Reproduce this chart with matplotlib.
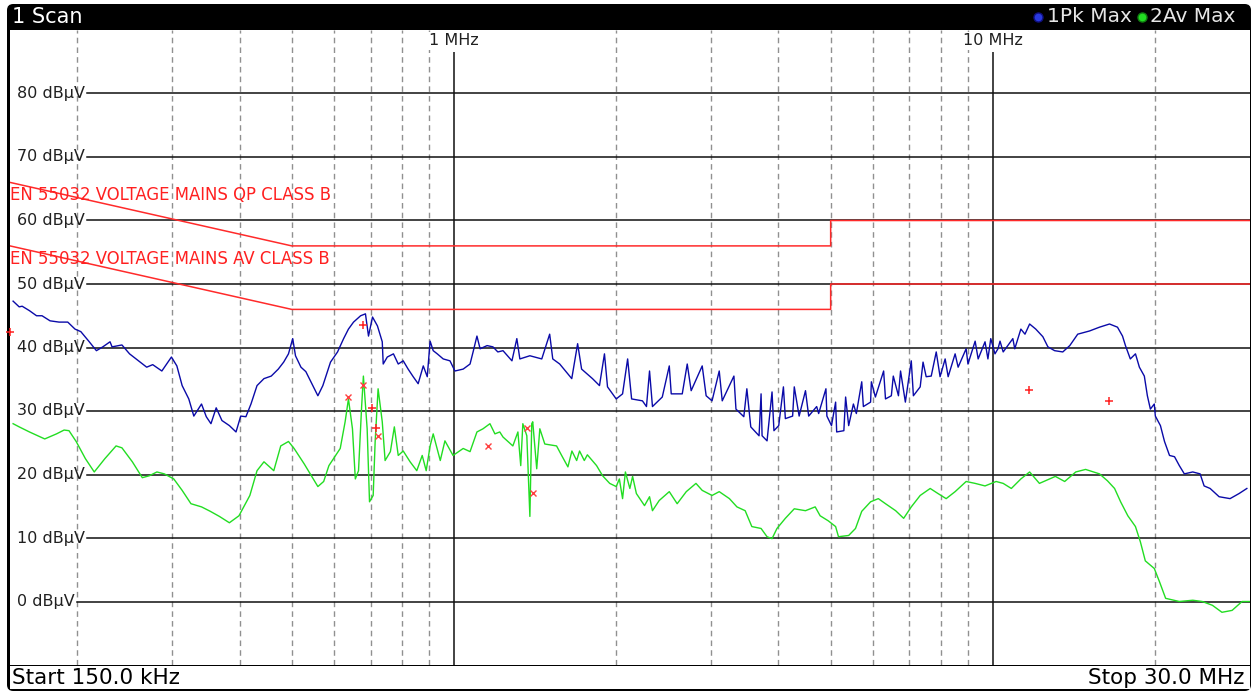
import matplotlib
matplotlib.use("Agg")
import matplotlib.pyplot as plt
from matplotlib.patches import FancyBboxPatch, Rectangle
from matplotlib.lines import Line2D
from matplotlib.transforms import blended_transform_factory

# -----------------------------------------------------------------------------
# scan data: frequency in MHz, level in dBuV
pk_freq = [
    0.152, 0.156, 0.158, 0.163, 0.168, 0.172, 0.178, 0.185, 0.192, 0.198,
    0.203, 0.210, 0.217, 0.223, 0.230, 0.232, 0.242, 0.250, 0.257, 0.269,
    0.276, 0.287, 0.299, 0.306, 0.313, 0.322, 0.329, 0.340, 0.347, 0.354,
    0.362, 0.371, 0.383, 0.394, 0.402, 0.411, 0.420, 0.431, 0.444, 0.458,
    0.472, 0.483, 0.493, 0.502, 0.508, 0.520, 0.531, 0.547, 0.559, 0.571,
    0.590, 0.608, 0.624, 0.637, 0.651, 0.671, 0.685, 0.694, 0.706, 0.721,
    0.736, 0.739, 0.752, 0.772, 0.788, 0.805, 0.822, 0.840, 0.858, 0.877,
    0.892, 0.903, 0.915, 0.931, 0.955, 0.983, 1.004, 1.040, 1.071, 1.085,
    1.103, 1.118, 1.152, 1.181, 1.206, 1.233, 1.281, 1.308, 1.325, 1.383,
    1.455, 1.505, 1.525, 1.571, 1.654, 1.696, 1.725, 1.807, 1.862, 1.902,
    1.927, 2.000, 2.055, 2.100, 2.136, 2.237, 2.276, 2.306, 2.335, 2.435,
    2.509, 2.530, 2.652, 2.709, 2.755, 2.888, 2.937, 3.012, 3.106, 3.146,
    3.307, 3.336, 3.450, 3.495, 3.554, 3.682, 3.714, 3.730, 3.810, 3.892,
    3.924, 4.005, 4.086, 4.120, 4.250, 4.280, 4.370, 4.490, 4.552, 4.710,
    4.750, 4.900, 4.920, 5.018, 5.107, 5.130, 5.290, 5.330, 5.400, 5.510,
    5.580, 5.710, 5.750, 5.930, 5.950, 6.053, 6.270, 6.320, 6.480, 6.534,
    6.680, 6.740, 6.880, 7.056, 7.120, 7.330, 7.420, 7.520, 7.684, 7.850,
    7.980, 8.155, 8.260, 8.510, 8.620, 8.920, 8.990, 9.270, 9.390, 9.670,
    9.790, 9.910, 10.09, 10.22, 10.31, 10.45, 10.89, 10.98, 11.27, 11.47,
    11.70, 12.01, 12.38, 12.65, 13.02, 13.48, 13.89, 14.37, 15.11, 15.77,
    16.46, 17.03, 17.40, 17.62, 17.99, 18.39, 18.70, 19.10, 19.35, 19.60,
    19.93, 20.02, 20.46, 20.82, 21.27, 21.73, 22.18, 22.66, 23.49, 24.24,
    24.66, 25.30, 26.29, 27.55, 28.63, 29.60,
]
pk_level = [
    47.3, 46.4, 46.5, 45.8, 45.0, 45.0, 44.2, 44.0, 44.0, 42.9,
    42.5, 41.0, 39.5, 40.1, 40.9, 40.1, 40.4, 39.0, 38.2, 36.9,
    37.3, 36.3, 38.5, 37.1, 34.0, 31.9, 29.2, 31.1, 29.1, 28.0,
    30.5, 28.5, 27.7, 26.7, 29.2, 29.1, 31.1, 34.0, 35.1, 35.5,
    36.6, 37.7, 39.0, 41.4, 38.7, 36.9, 36.2, 34.0, 32.4, 34.0,
    37.7, 39.3, 41.4, 42.9, 44.0, 45.0, 45.3, 41.8, 44.8, 43.4,
    40.9, 37.4, 38.5, 39.0, 37.4, 37.9, 36.6, 35.4, 34.3, 37.1,
    35.4, 41.0, 39.5, 39.0, 38.2, 37.9, 36.3, 36.6, 37.4, 39.3,
    41.8, 39.8, 40.3, 40.1, 39.3, 39.5, 37.9, 41.4, 38.2, 38.7,
    38.2, 42.1, 38.2, 37.4, 35.1, 40.6, 36.6, 35.1, 34.0, 39.0,
    33.8, 31.9, 32.7, 38.2, 31.9, 31.6, 30.7, 36.3, 30.7, 32.2,
    37.1, 32.7, 32.7, 37.4, 33.2, 37.1, 32.4, 31.6, 36.3, 31.6,
    35.5, 30.3, 29.1, 33.5, 27.5, 26.1, 32.7, 26.1, 25.3, 33.0,
    26.9, 27.7, 33.8, 28.8, 29.2, 33.8, 29.2, 33.2, 29.2, 30.7,
    29.6, 33.5, 29.2, 27.7, 31.4, 26.7, 26.9, 32.2, 27.7, 31.1,
    29.6, 34.6, 30.7, 31.4, 34.6, 32.2, 36.3, 31.9, 32.4, 35.5,
    32.4, 36.3, 31.4, 37.9, 32.4, 33.8, 37.7, 35.4, 35.5, 39.3,
    35.4, 38.2, 35.4, 39.0, 36.9, 39.8, 37.4, 41.0, 38.2, 40.9,
    38.2, 41.4, 39.0, 39.8, 41.0, 39.3, 41.4, 39.8, 42.9, 42.1,
    43.7, 42.9, 41.7, 40.1, 39.5, 39.3, 40.3, 42.1, 42.6, 43.2,
    43.7, 43.2, 41.8, 40.3, 38.2, 39.0, 36.9, 35.5, 32.4, 30.3,
    31.1, 29.2, 27.7, 25.2, 23.0, 22.8, 21.4, 20.1, 20.4, 20.1,
    18.2, 17.8, 16.5, 16.2, 17.0, 17.8,
]

av_freq = [
    0.152, 0.156, 0.163, 0.174, 0.183, 0.189, 0.193, 0.199, 0.207, 0.215,
    0.225, 0.236, 0.242, 0.253, 0.264, 0.272, 0.281, 0.290, 0.302, 0.313,
    0.325, 0.340, 0.353, 0.367, 0.383, 0.399, 0.418, 0.431, 0.444, 0.463,
    0.477, 0.493, 0.505, 0.527, 0.559, 0.573, 0.586, 0.615, 0.628, 0.637,
    0.648, 0.656, 0.665, 0.674, 0.679, 0.690, 0.697, 0.708, 0.714, 0.723,
    0.736, 0.745, 0.762, 0.775, 0.788, 0.805, 0.829, 0.853, 0.873, 0.888,
    0.903, 0.915, 0.943, 0.962, 0.996, 1.040, 1.071, 1.103, 1.132, 1.166,
    1.191, 1.216, 1.233, 1.286, 1.314, 1.330, 1.342, 1.365, 1.383, 1.394,
    1.400, 1.424, 1.443, 1.474, 1.550, 1.584, 1.627, 1.655, 1.689, 1.710,
    1.745, 1.768, 1.839, 1.887, 1.945, 2.000, 2.027, 2.055, 2.080, 2.120,
    2.145, 2.180, 2.257, 2.306, 2.335, 2.403, 2.509, 2.595, 2.698, 2.812,
    2.888, 3.012, 3.106, 3.244, 3.350, 3.470, 3.570, 3.714, 3.810, 3.892,
    3.975, 4.120, 4.280, 4.490, 4.680, 4.780, 4.950, 5.107, 5.170, 5.400,
    5.560, 5.710, 5.930, 6.130, 6.320, 6.600, 6.830, 7.056, 7.330, 7.650,
    7.910, 8.190, 8.510, 8.920, 9.270, 9.670, 10.14, 10.45, 10.82, 11.27,
    11.70, 12.20, 13.06, 13.59, 14.25, 14.86, 15.77, 16.32, 16.82, 17.26,
    17.80, 18.39, 18.78, 19.18, 19.93, 20.38, 20.92, 22.18, 23.49, 24.46,
    25.55, 26.61, 27.79, 29.00, 29.90,
]
av_level = [
    28.0, 27.5, 26.7, 25.6, 26.4, 27.0, 26.9, 25.2, 22.5, 20.4,
    22.5, 24.5, 24.2, 22.0, 19.5, 19.8, 20.4, 20.1, 19.3, 17.5,
    15.4, 14.9, 14.2, 13.4, 12.4, 13.5, 16.7, 20.6, 22.0, 20.6,
    24.5, 25.2, 24.1, 21.7, 18.1, 18.9, 21.4, 24.1, 28.3, 31.9,
    27.2, 19.3, 20.6, 30.8, 35.5, 27.2, 15.7, 16.7, 25.2, 33.5,
    28.3, 22.2, 23.6, 27.5, 23.0, 23.7, 22.0, 20.6, 23.0, 20.6,
    24.5, 26.4, 22.2, 25.3, 23.0, 24.1, 23.6, 26.7, 27.2, 28.0,
    26.4, 26.7, 25.9, 24.5, 26.7, 21.4, 28.0, 26.1, 13.4, 28.0,
    28.3, 20.9, 27.2, 24.8, 24.5, 23.0, 21.2, 23.7, 22.2, 23.7,
    22.2, 23.1, 21.4, 19.8, 18.6, 18.1, 19.3, 16.2, 20.4, 17.8,
    19.7, 17.0, 15.1, 16.5, 14.3, 15.9, 17.3, 15.4, 17.3, 18.6,
    17.5, 16.7, 17.3, 16.2, 14.9, 14.3, 11.8, 11.5, 10.2, 9.9,
    11.5, 13.1, 14.6, 14.3, 14.9, 13.5, 12.7, 11.8, 10.2, 10.4,
    11.5, 14.2, 15.7, 16.2, 15.4, 14.3, 13.1, 14.9, 16.7, 17.8,
    17.0, 16.2, 17.3, 18.9, 18.6, 18.2, 18.9, 18.6, 17.8, 19.3,
    20.4, 18.6, 19.7, 18.9, 20.4, 20.8, 20.1, 19.0, 17.8, 15.7,
    13.5, 11.8, 9.4, 6.4, 5.2, 3.1, 0.5, 0.0, 0.2, 0.0,
    -0.6, -1.7, -1.4, 0.0, 0.0,
]

# final measurement results
qp_mark_freq = [0.679, 0.703, 0.717, 11.66, 16.4]
qp_mark_level = [43.6, 30.5, 27.4, 33.3, 31.6]
av_mark_freq = [0.637, 0.679, 0.724, 1.156, 1.364, 1.40]
av_mark_level = [32.2, 34.1, 26.1, 24.5, 27.4, 17.1]
edge_mark_level = 42.5

# EN 55032 class B limit lines
limit_freq = [0.15, 0.5, 5.0, 5.0, 30.0]
qp_limit = [66, 56, 56, 60, 60]
av_limit = [56, 46, 46, 50, 50]

y_levels = [0, 10, 20, 30, 40, 50, 60, 70, 80]
minor_freqs = [0.2, 0.3, 0.4, 0.5, 0.6, 0.7, 0.8, 0.9,
               2, 3, 4, 5, 6, 7, 8, 9, 20]
major_freqs = [1, 10]
major_labels = ["1 MHz", "10 MHz"]

# -----------------------------------------------------------------------------
W, H = 1252, 692


def fx(px):
    return px / W


def fy(py):
    return 1.0 - py / H


fig = plt.figure(figsize=(W / 100, H / 100), dpi=100)
fig.patch.set_facecolor("white")

# black window frame with title bar (kept behind the axes)
frame = FancyBboxPatch((fx(7), fy(691)), fx(1251) - fx(7), fy(4) - fy(691),
                       boxstyle="round,pad=0,rounding_size=0.005",
                       mutation_aspect=W / H, transform=fig.transFigure,
                       fc="black", ec="none", zorder=-10)
fig.patches.append(frame)
footer = Rectangle((fx(10), fy(689)), fx(1250) - fx(10), fy(666) - fy(689),
                   transform=fig.transFigure, fc="white", ec="none",
                   zorder=-5)
fig.patches.append(footer)

ax = fig.add_axes([fx(10), fy(665), fx(1250) - fx(10), fy(30) - fy(665)])
ax.set_facecolor("white")
ax.set_xscale("log")
ax.set_xlim(0.15, 30)
ax.set_ylim(-10, 90)
for s in ax.spines.values():
    s.set_visible(False)
ax.set_xticks([])
ax.set_xticks([], minor=True)
ax.set_yticks([])

# vertical grid
for f in minor_freqs:
    ax.axvline(f, color="#909090", lw=1.0, ls=(0, (4, 3)), zorder=1)
for f, lab in zip(major_freqs, major_labels):
    ax.vlines(f, -10, 86.6, color="#101010", lw=1.1, zorder=1.5)
    ax.text(f, 88.3, lab, ha="center", va="center", fontsize=11.5,
            color="#202020", zorder=2,
            bbox=dict(fc="white", ec="none", pad=1))

# level labels, horizontal grid starts right after each label
ytr = blended_transform_factory(ax.transAxes, ax.transData)
labels = []
for v in y_levels:
    t = ax.text(7 / 1240, v, "%d dBµV" % v, transform=ytr, ha="left",
                va="center", fontsize=11.5, color="#202020", zorder=2)
    labels.append((v, t))
fig.canvas.draw()
r = fig.canvas.get_renderer()
axbb = ax.get_window_extent(r)
for v, t in labels:
    bb = t.get_window_extent(r)
    x0 = (bb.x1 + 2 - axbb.x0) / axbb.width
    ax.axhline(v, xmin=x0, xmax=1, color="#101010", lw=1.1, zorder=1.5)

# limit lines
ax.plot(limit_freq, qp_limit, color="#ff2a2a", lw=1.1, zorder=2.5)
ax.plot(limit_freq, av_limit, color="#ff2a2a", lw=1.1, zorder=2.5)
ax.text(0.0, 64.0, "EN 55032 VOLTAGE MAINS QP CLASS B", transform=ytr,
        ha="left", va="center", fontsize=11.9, color="#ff2020", zorder=4)
ax.text(0.0, 53.9, "EN 55032 VOLTAGE MAINS AV CLASS B", transform=ytr,
        ha="left", va="center", fontsize=11.9, color="#ff2020", zorder=4)

# traces
ax.plot(av_freq, av_level, color="#22dd22", lw=1.0, zorder=3)
ax.plot(pk_freq, pk_level, color="#0a0aa8", lw=1.0, zorder=3.2)

# result markers
ax.plot(qp_mark_freq, qp_mark_level, ls="none", marker="+", ms=6, mew=1.1,
        color="#ff2020", zorder=5)
ax.plot(av_mark_freq, av_mark_level, ls="none", marker="x", ms=5, mew=1.0,
        color="#ff4040", zorder=5)
ax.plot([0.15], [edge_mark_level], ls="none", marker="+", ms=6, mew=1.1,
        color="#ff2020", zorder=6, clip_on=False)

# title bar
fig.text(fx(12), fy(17), "1 Scan", color="white", fontsize=15,
         ha="left", va="center")
fig.add_artist(Line2D([fx(1038)], [fy(17)], marker="o", ms=6.5,
                      color="#2a3adf", mec="#101080",
                      transform=fig.transFigure))
fig.text(fx(1047), fy(17), "1Pk Max", color="#e6e6e6", fontsize=14.5,
         ha="left", va="center")
fig.add_artist(Line2D([fx(1142)], [fy(17)], marker="o", ms=6.5,
                      color="#22dd22", mec="#108010",
                      transform=fig.transFigure))
fig.text(fx(1150), fy(17), "2Av Max", color="#e6e6e6", fontsize=14.5,
         ha="left", va="center")

# footer
fig.text(fx(12), fy(678), "Start 150.0 kHz", color="black", fontsize=15.5,
         ha="left", va="center")
fig.text(fx(1244), fy(678), "Stop 30.0 MHz", color="black", fontsize=15.5,
         ha="right", va="center")

fig.savefig("out.png", dpi=100, facecolor="white")
